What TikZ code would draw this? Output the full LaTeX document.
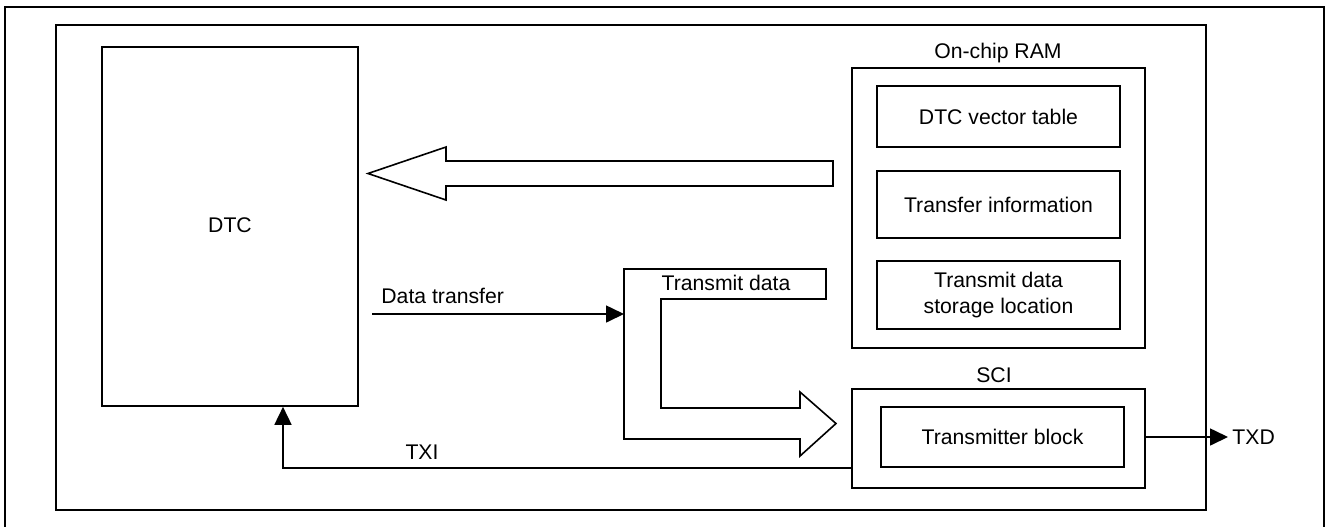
\documentclass[tikz,border=0pt]{standalone}
\usepackage{fontspec}
\setmainfont{Liberation Sans}
\usetikzlibrary{positioning, arrows.meta, calc}

\begin{document}
\begin{tikzpicture}[
        x=0.5pt, y=-0.5pt, % 1 unitate = 1 pixel din schita
        every node/.style={font=\fontsize{10.6}{12.8}\selectfont},
        % 1. Blocurile (DTC, RAM, SCI)
        block/.style={
                draw,
                line width=0.8pt,
                inner sep=0pt,
                align=center
            },
        % 2. Sub-blocurile din RAM / SCI
        sub/.style={
                block,
                minimum width=121.5pt
            },
        % 3. Sagetile de semnal
        sig/.style={
                line width=0.8pt,
                -{Triangle[length=9pt, width=8.5pt]}
            },
        % 4. Sagetile groase (goale)
        bigarrow/.style={
                draw,
                line width=0.8pt,
                fill=white
            }
    ]
    \useasboundingbox (0,0) rectangle (1326,526);

    % 0. Rama exterioara si cipul
    \draw[line width=1pt] (5,7) rectangle (1324,530);
    \node[block, minimum width=575pt, minimum height=242.5pt] (chip) at (631,267.5) {};

    % 1. DTC
    \node[block, minimum width=128pt, minimum height=179.5pt] (dtc) at (230,226.5) {};
    \node (dtclbl) at (230,225) {DTC};

    % 2. On-chip RAM
    \node[block, minimum width=146.5pt, minimum height=140pt] (ram) at (998.5,208) {};
    \node (ramlbl) at (998,53) {On-chip RAM};
    \node[sub, minimum height=30.5pt] (vect) at (998.5,116.5) {DTC vector table};
    \node[sub, minimum height=33.5pt] (info) at (998.5,204.5) {Transfer information};
    \node[sub, minimum height=34pt] (store) at (998.5,295) {Transmit data\\storage location};

    % 3. SCI
    \node[block, minimum width=146.5pt, minimum height=49.5pt] (sci) at (998.5,438.5) {};
    \node (scilbl) at (994,375) {SCI};
    \node[sub, minimum height=30pt] (txb) at (1002.5,437) {Transmitter block};

    % 4. Sageata mare RAM -> DTC
    \draw[bigarrow] (833,161) -- (446,161) -- (446,147) -- (368,173.5)
    -- (446,200) -- (446,186) -- (833,186) -- cycle;

    % 5. Sageata in L (Transmit data -> SCI)
    \draw[bigarrow] (624,269) -- (826,269) -- (826,299) -- (661,299) -- (661,408)
    -- (800,408) -- (800,392) -- (836,423.5) -- (800,456) -- (800,439)
    -- (624,439) -- cycle;
    \node (txdata) at (726,283) {Transmit data};
    \coordinate (tdin) at (624,314);

    % 6. Data transfer
    \coordinate (dtstart) at (372,314);
    \draw[sig] (dtstart) -- (tdin);
    \node[anchor=south west, inner sep=1pt] (dtlbl) at (379,306) {Data transfer};

    % 7. TXI (SCI -> DTC)
    \draw[sig] (sci.west |- 0,468) -- (283,468) -- (dtc.south -| 283,0);
    \node (txilbl) at (422,452) {TXI};

    % 8. TXD
    \coordinate (txd) at (1228,437);
    \draw[sig] (sci.east |- txd) -- (txd);
    \node[anchor=west, inner sep=2pt] (txdlbl) at (txd) {TXD};

\end{tikzpicture}
\end{document}
